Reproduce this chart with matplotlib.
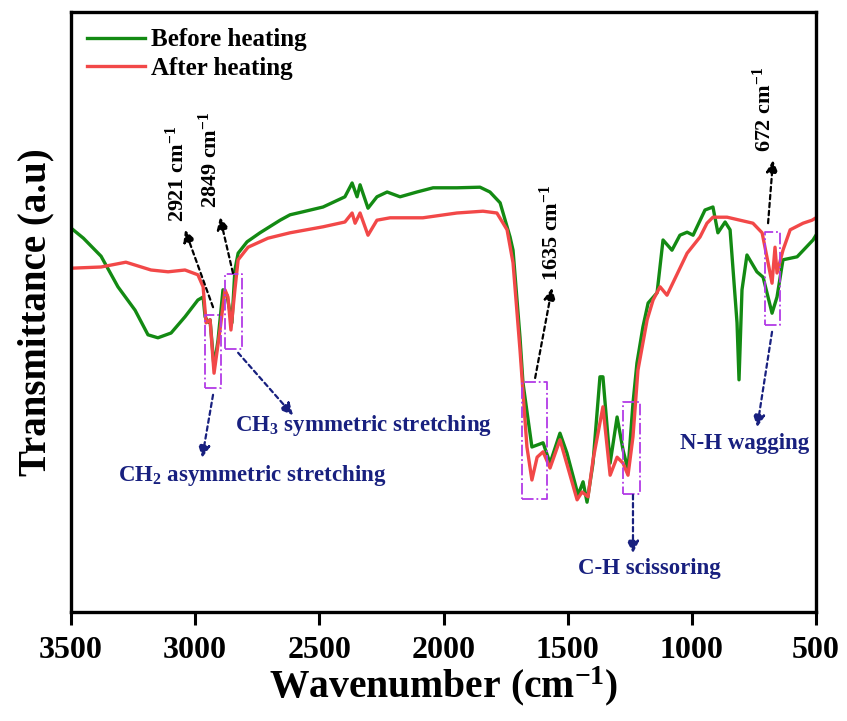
#!/usr/bin/env python3
"""FTIR spectra before and after heating with band assignments."""

import matplotlib

matplotlib.use("Agg")
import matplotlib.pyplot as plt

# wavenumber (cm-1) and transmittance (a.u.)
BEFORE_WN = [
    3500, 3450, 3379, 3311, 3242, 3190, 3150, 3097, 3041, 2989, 2968, 2960,
    2948, 2940, 2924, 2908, 2888, 2872, 2852, 2840, 2827, 2791, 2739, 2658,
    2618, 2566, 2485, 2397, 2368, 2348, 2336, 2304, 2268, 2227, 2175, 2107,
    2042, 1946, 1853, 1813, 1772, 1732, 1720, 1692, 1680, 1644, 1599, 1571,
    1531, 1503, 1458, 1438, 1422, 1398, 1370, 1358, 1329, 1301, 1277, 1257,
    1237, 1221, 1197, 1176, 1140, 1116, 1080, 1048, 1019, 995, 947, 915, 895,
    866, 846, 818, 810, 798, 778, 738, 713, 677, 657, 633, 576, 512, 500,
]
BEFORE_T = [
    64.0, 62.3, 59.3, 54.2, 50.3, 46.2, 45.7, 46.5, 49.2, 52.0, 52.5, 49.2,
    48.3, 48.7, 40.8, 45.3, 53.7, 52.8, 48.2, 57.0, 59.8, 61.7, 63.2, 65.3,
    66.2, 66.7, 67.5, 69.2, 71.5, 69.2, 71.2, 67.3, 69.2, 70.0, 69.2, 70.0,
    70.7, 70.7, 70.8, 70.0, 68.2, 62.5, 60.3, 45.8, 38.2, 27.5, 28.2, 24.8,
    29.8, 26.5, 19.5, 21.7, 18.3, 24.8, 39.2, 39.2, 24.8, 32.5, 27.0, 23.7,
    34.8, 41.5, 47.5, 51.5, 53.2, 62.0, 60.3, 62.8, 63.3, 62.8, 67.0, 67.5, 63.2,
    65.0, 63.7, 48.2, 38.7, 53.7, 59.5, 56.7, 55.8, 49.8, 52.5, 58.7, 59.2, 62.0, 62.8,
]

AFTER_WN = [
    3500, 3379, 3279, 3178, 3109, 3041, 2989, 2968, 2956, 2940, 2924, 2900,
    2880, 2868, 2856, 2840, 2827, 2787, 2707, 2618, 2485, 2397, 2368, 2356,
    2336, 2304, 2268, 2215, 2083, 1946, 1841, 1785, 1744, 1720, 1692, 1664,
    1644, 1623, 1599, 1571, 1531, 1462, 1442, 1418, 1398, 1358, 1329, 1301,
    1277, 1257, 1237, 1217, 1180, 1156, 1128, 1100, 1019, 967, 939, 915, 858,
    806, 754, 717, 693, 677, 665, 657, 633, 604, 552, 516, 500,
]
AFTER_T = [
    57.3, 57.5, 58.3, 57.0, 56.7, 57.0, 56.2, 54.2, 48.2, 48.7, 39.8, 47.0,
    53.7, 52.5, 47.0, 53.7, 58.7, 60.8, 62.3, 63.2, 64.2, 65.0, 66.5, 64.8,
    66.5, 62.8, 65.3, 65.7, 65.7, 66.5, 66.8, 66.5, 63.7, 58.2, 43.7, 27.5,
    22.0, 25.8, 26.7, 24.0, 28.7, 18.7, 20.0, 19.2, 25.3, 34.2, 22.8, 25.8,
    24.8, 22.8, 29.2, 40.3, 48.7, 52.0, 54.2, 52.8, 59.8, 62.5, 64.8, 65.8, 65.8,
    65.3, 64.8, 63.2, 58.2, 54.8, 60.8, 56.5, 60.3, 63.7, 64.8, 65.3, 65.7,
]

X_TICKS = [3500, 3000, 2500, 2000, 1500, 1000, 500]

# peak labels: text, label position, arrow tail (box) and arrow head
PEAK_LABELS = ["2921 cm$^{-1}$", "2849 cm$^{-1}$", "1635 cm$^{-1}$", "672 cm$^{-1}$"]
PEAK_TEXT_XY = [(3073, 73.0), (2940, 75.3), (1567, 63.2), (709, 83.7)]
PEAK_TAIL_XY = [(2928, 50.8), (2848, 56.5), (1631, 39.0), (693, 64.8)]
PEAK_HEAD_XY = [(3041, 63.7), (2900, 65.8), (1563, 54.0), (673, 75.3)]

# band assignments
BAND_LABELS = [
    "CH$_2$ asymmetric stretching",
    "CH$_3$ symmetric stretching",
    "C-H scissoring",
    "N-H wagging",
]
BAND_TEXT_XY = [(2771, 22.7), (2324, 31.0), (1172, 7.2), (786, 28.0)]
BAND_TAIL_XY = [(2928, 36.2), (2827, 43.2), (1237, 19.5), (677, 46.7)]
BAND_HEAD_XY = [(2972, 25.7), (2606, 32.8), (1237, 9.8), (737, 30.8)]

# highlight boxes: (wn high, wn low, T low, T high)
BOXES = [
    (2960, 2896, 37.3, 49.5),
    (2880, 2811, 43.8, 56.3),
    (1684, 1583, 18.8, 38.3),
    (1277, 1209, 19.7, 35.0),
    (705, 645, 47.8, 63.3),
]

GREEN = "#138a13"
RED = "#f24848"
NAVY = "#18207f"
VIOLET = "#b23ae6"


def setup_fonts() -> None:
    plt.rcParams["font.family"] = ["Liberation Serif", "DejaVu Serif"]
    plt.rcParams["font.weight"] = "bold"
    plt.rcParams["mathtext.fontset"] = "custom"
    plt.rcParams["mathtext.rm"] = "Liberation Serif:bold"
    plt.rcParams["mathtext.it"] = "Liberation Serif:bold"
    plt.rcParams["mathtext.bf"] = "Liberation Serif:bold"


def arrow(ax, tail, head, color):
    ax.annotate(
        "",
        xy=head,
        xytext=tail,
        arrowprops=dict(
            arrowstyle="-|>",
            color=color,
            lw=1.6,
            linestyle=(0, (2, 1.6)),
            mutation_scale=18,
            shrinkA=0,
            shrinkB=0,
        ),
    )


def main() -> None:
    setup_fonts()
    fig = plt.figure(figsize=(8.47, 7.21), dpi=100)
    ax = fig.add_axes([71 / 847, 109 / 721, 745 / 847, 600 / 721])

    ax.plot(BEFORE_WN, BEFORE_T, color=GREEN, lw=2.4, label="Before heating")
    ax.plot(AFTER_WN, AFTER_T, color=RED, lw=2.4, label="After heating")

    for x_hi, x_lo, y_lo, y_hi in BOXES:
        ax.plot(
            [x_hi, x_lo, x_lo, x_hi, x_hi],
            [y_lo, y_lo, y_hi, y_hi, y_lo],
            color=VIOLET,
            lw=1.3,
            linestyle="-.",
        )

    for label, text_xy, tail, head in zip(PEAK_LABELS, PEAK_TEXT_XY, PEAK_TAIL_XY, PEAK_HEAD_XY):
        arrow(ax, tail, head, "black")
        ax.text(*text_xy, label, rotation=90, ha="center", va="center", fontsize=16,
                fontweight="bold")

    for label, text_xy, tail, head in zip(BAND_LABELS, BAND_TEXT_XY, BAND_TAIL_XY, BAND_HEAD_XY):
        arrow(ax, tail, head, NAVY)
        ax.text(*text_xy, label, ha="center", va="center", fontsize=16.5,
                fontweight="bold", color=NAVY)

    ax.set_xlim(3500, 500)
    ax.set_ylim(0, 100)
    ax.set_xticks(X_TICKS)
    ax.set_yticks([])
    ax.tick_params(axis="x", direction="out", length=9, width=2.2, labelsize=23, pad=8)
    for spine in ax.spines.values():
        spine.set_linewidth(2.4)

    ax.set_xlabel("Wavenumber (cm$^{-1}$)", fontsize=28.5, fontweight="bold", labelpad=0)
    ax.set_ylabel("Transmittance (a.u)", fontsize=28, fontweight="bold", labelpad=12)

    ax.legend(
        loc="upper left",
        bbox_to_anchor=(0.0, 1.0),
        frameon=False,
        fontsize=18,
        handlelength=2.3,
        handletextpad=0.25,
        labelspacing=0.22,
        borderaxespad=0.25,
    )

    fig.savefig("out.png", dpi=100)
    plt.close(fig)


if __name__ == "__main__":
    main()
